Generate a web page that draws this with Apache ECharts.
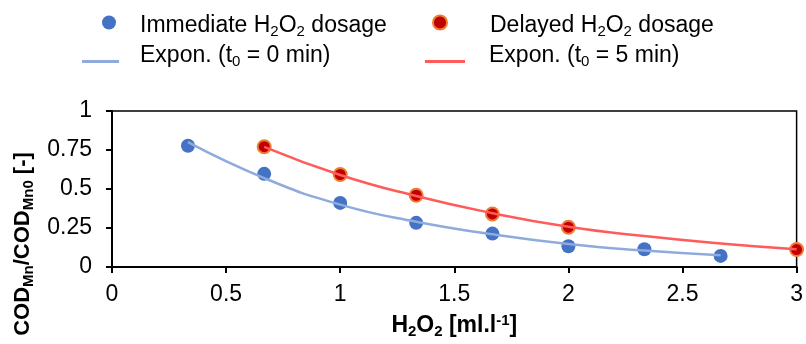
<!DOCTYPE html>
<html>
<head>
<meta charset="utf-8">
<script src="https://cdn.jsdelivr.net/npm/echarts@6/dist/echarts.min.js"></script>
<style>
  html, body { margin: 0; padding: 0; background: #fff; }
  #chart { width: 806px; height: 344px; }
</style>
</head>
<body>
<div id="chart"></div>
<script>
// measured points
const xImmediate = [0.333, 0.667, 1, 1.333, 1.667, 2, 2.333, 2.667];
const yImmediate = [0.777, 0.597, 0.411, 0.283, 0.214, 0.133, 0.114, 0.071];
const xDelayed = [0.667, 1, 1.333, 1.667, 2, 3];
const yDelayed = [0.771, 0.593, 0.46, 0.34, 0.255, 0.112];

// exponential trend lines
const xTrend0 = [0.333, 0.667, 1, 1.333, 1.667, 2, 2.333, 2.667];
const yTrend0 = [0.80, 0.57, 0.40, 0.29, 0.21, 0.147, 0.105, 0.075];
const xTrend5 = [0.667, 1, 1.333, 1.667, 2, 2.333, 2.667, 3];
const yTrend5 = [0.77, 0.59, 0.455, 0.345, 0.258, 0.198, 0.15, 0.113];

const xTicks = [0, 3, 0.5];
const yTicks = [0, 1, 0.25];

const FONT = "'Liberation Sans', Arial, sans-serif";

const pairs = (xs, ys) => xs.map((x, i) => [x, ys[i]]);

const richText = {
  n: { fontSize: 23, lineHeight: 28, fontFamily: FONT, color: '#000' },
  s: { fontSize: 15, lineHeight: 14, verticalAlign: 'bottom', fontFamily: FONT, color: '#000' }
};

const legendNames = {
  imm: 'Immediate H2O2 dosage',
  del: 'Delayed H2O2 dosage',
  t0: 'Expon. (t0 = 0 min)',
  t5: 'Expon. (t0 = 5 min)'
};

const legendLabel = name => {
  if (name === legendNames.imm) return '{n|Immediate H}{s|2}{n|O}{s|2}{n| dosage}';
  if (name === legendNames.del) return '{n|Delayed H}{s|2}{n|O}{s|2}{n| dosage}';
  if (name === legendNames.t0) return '{n|Expon. (t}{s|0}{n| = 0 min)}';
  return '{n|Expon. (t}{s|0}{n| = 5 min)}';
};

const makeLegend = (name, left, top, w, h, icon, padding) => ({
  data: [name],
  left: left,
  top: top,
  padding: 0,
  itemWidth: w,
  itemHeight: h,
  icon: icon,
  selectedMode: false,
  formatter: legendLabel,
  textStyle: { rich: richText, padding: padding }
});

const chart = echarts.init(document.getElementById('chart'));

const option = {
  animation: false,
  textStyle: { fontFamily: FONT },
  legend: [
    makeLegend(legendNames.imm, 102, 14, 14, 14, 'circle', [6, 0, 0, 19]),
    makeLegend(legendNames.del, 432, 14, 14, 14, 'circle', [6, 0, 0, 38]),
    makeLegend(legendNames.t0, 82, 44, 37, 3, 'rect', [0, 0, 12, 16]),
    makeLegend(legendNames.t5, 425, 44, 40, 3, 'rect', [0, 0, 12, 19])
  ],
  grid: {
    left: 112, right: 8, top: 111, bottom: 77,
    show: true, borderColor: '#000', borderWidth: 1.5
  },
  xAxis: {
    type: 'value',
    min: xTicks[0], max: xTicks[1], interval: xTicks[2],
    splitLine: { show: false },
    axisLine: { lineStyle: { color: '#000', width: 2 } },
    axisTick: { show: true, length: 6, lineStyle: { color: '#000', width: 2 } },
    axisLabel: { fontSize: 23, color: '#000', margin: 16, fontFamily: FONT },
    name: '{b|H}{bs|2}{b|O}{bs|2}{b| [ml.l}{bp|-1}{b|]}',
    nameLocation: 'middle',
    nameGap: 46,
    nameTextStyle: {
      rich: {
        b: { fontSize: 23, fontWeight: 'bold', lineHeight: 26, fontFamily: FONT, color: '#000' },
        bs: { fontSize: 15, fontWeight: 'bold', lineHeight: 13, verticalAlign: 'bottom', fontFamily: FONT, color: '#000' },
        bp: { fontSize: 15, fontWeight: 'bold', lineHeight: 20, verticalAlign: 'top', fontFamily: FONT, color: '#000' }
      }
    }
  },
  yAxis: {
    type: 'value',
    min: yTicks[0], max: yTicks[1], interval: yTicks[2],
    splitLine: { show: false },
    axisLine: { show: true, lineStyle: { color: '#000', width: 2 } },
    axisTick: { show: true, length: 6, lineStyle: { color: '#000', width: 2 } },
    axisLabel: { fontSize: 23, color: '#000', margin: 20, fontFamily: FONT },
    name: '{b|COD}{bs|Mn}{b|/COD}{bs|Mn0}{b| [-]}',
    nameLocation: 'middle',
    nameRotate: 90,
    nameGap: 70,
    nameTextStyle: {
      padding: [0, 110, 0, 0],
      rich: {
        b: { fontSize: 22, fontWeight: 'bold', lineHeight: 26, fontFamily: FONT, color: '#000' },
        bs: { fontSize: 15, fontWeight: 'bold', lineHeight: 13, verticalAlign: 'bottom', fontFamily: FONT, color: '#000' }
      }
    }
  },
  series: [
    {
      name: legendNames.imm,
      type: 'scatter',
      symbolSize: 14,
      z: 2,
      itemStyle: { color: '#4472C4', opacity: 1 },
      data: pairs(xImmediate, yImmediate)
    },
    {
      name: legendNames.del,
      type: 'scatter',
      symbolSize: 13,
      z: 2,
      itemStyle: { color: '#C00000', borderColor: '#ED7D31', borderWidth: 2, opacity: 1 },
      data: pairs(xDelayed, yDelayed)
    },
    {
      name: legendNames.t0,
      type: 'line',
      smooth: true,
      showSymbol: false,
      z: 3,
      itemStyle: { color: '#8FAADC' },
      lineStyle: { color: '#8FAADC', width: 2.5 },
      data: pairs(xTrend0, yTrend0)
    },
    {
      name: legendNames.t5,
      type: 'line',
      smooth: true,
      showSymbol: false,
      z: 3,
      itemStyle: { color: '#FF5B5B' },
      lineStyle: { color: '#FF5B5B', width: 2.5 },
      data: pairs(xTrend5, yTrend5)
    }
  ]
};

chart.setOption(option);
</script>
</body>
</html>
